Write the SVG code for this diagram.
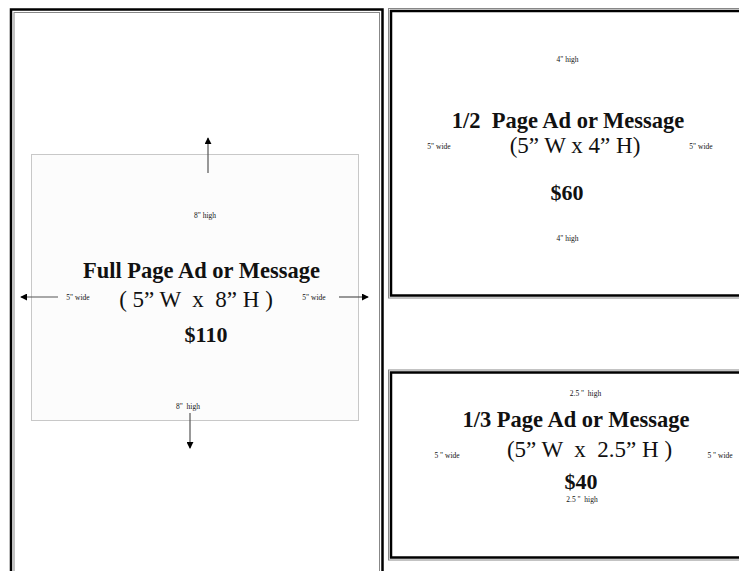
<svg xmlns="http://www.w3.org/2000/svg" width="739" height="571" viewBox="0 0 739 571">
<defs>
<marker id="ah" viewBox="0 0 8 8" refX="7" refY="4" markerWidth="7" markerHeight="7" markerUnits="userSpaceOnUse" orient="auto">
<path d="M0,0 L8,4 L0,8 Z" fill="#000"/>
</marker>
<style>
.t{font-family:"Liberation Serif","Times New Roman",serif;fill:#111;text-anchor:middle}
.title{font-size:22.5px;font-weight:bold}
.dim{font-size:23px}
.price{font-size:22px;font-weight:bold}
.small{font-size:7.5px}
.outer{fill:none;stroke:#000;stroke-width:2.5}
.outer2{fill:none;stroke:#888;stroke-width:1}
.conn{stroke:#555;stroke-width:1.2;fill:none;marker-end:url(#ah)}
</style>
</defs>
<rect width="739" height="571" fill="#fff"/>

<g id="full-page">
<rect class="outer" x="11" y="9.5" width="371.5" height="600"/>
<rect class="outer2" x="14" y="12.5" width="365.5" height="600"/>
<rect x="31.5" y="154.5" width="327" height="266" fill="#fcfcfc" stroke="#c8c8c8" stroke-width="1"/>
<text class="t small" x="205" y="218">8" high</text>
<text class="t title" x="201.5" y="278">Full Page Ad or Message</text>
<text class="t dim" x="196" y="306.5" xml:space="preserve">( 5” W  x  8” H )</text>
<text class="t price" x="206" y="341.5">$110</text>
<text class="t small" x="78" y="299.5">5" wide</text>
<text class="t small" x="314" y="299.5">5" wide</text>
<text class="t small" x="188" y="408.5" xml:space="preserve">8"  high</text>
</g>

<g id="half-page">
<rect class="outer2" x="388.5" y="8.5" width="364" height="289.5"/>
<rect class="outer" x="391" y="11" width="360" height="284.5"/>
<text class="t small" x="567.5" y="62">4" high</text>
<text class="t title" x="568" y="127.5" xml:space="preserve">1/2  Page Ad or Message</text>
<text class="t dim" x="575" y="152.5">(5” W x 4” H)</text>
<text class="t price" x="567" y="200">$60</text>
<text class="t small" x="439" y="149">5" wide</text>
<text class="t small" x="701" y="149">5" wide</text>
<text class="t small" x="567.5" y="240.5">4" high</text>
</g>

<g id="third-page">
<rect class="outer2" x="388.5" y="370" width="364" height="190"/>
<rect class="outer" x="391" y="372.5" width="360" height="185"/>
<text class="t small" x="585.5" y="395.5" xml:space="preserve">2.5 "  high</text>
<text class="t title" x="576" y="426.5">1/3 Page Ad or Message</text>
<text class="t dim" x="589.5" y="457" xml:space="preserve">(5” W  x  2.5” H )</text>
<text class="t price" x="581" y="489">$40</text>
<text class="t small" x="447" y="458">5 " wide</text>
<text class="t small" x="720" y="458">5 " wide</text>
<text class="t small" x="582" y="502" xml:space="preserve">2.5 "  high</text>
</g>

<g id="connectors">
<line class="conn" x1="208" y1="173" x2="208" y2="138"/>
<line class="conn" x1="190" y1="413" x2="190" y2="448"/>
<line class="conn" x1="58" y1="297" x2="21" y2="297"/>
<line class="conn" x1="339" y1="297" x2="368" y2="297"/>
</g>
</svg>
